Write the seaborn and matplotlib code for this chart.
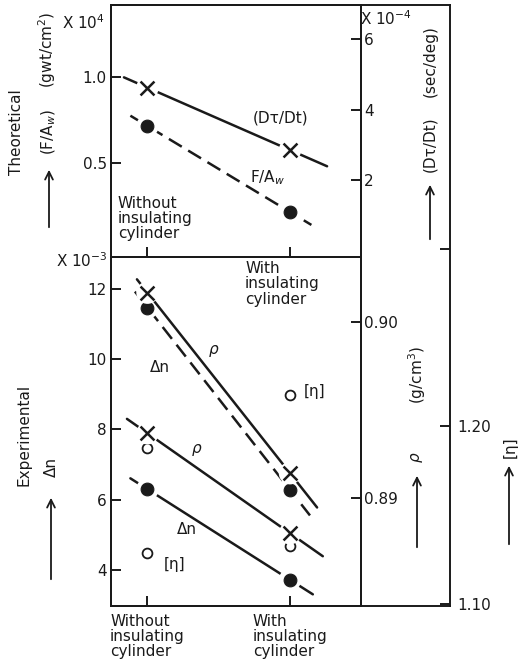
import numpy as np
import pandas as pd
import matplotlib
matplotlib.use("Agg")
import matplotlib.pyplot as plt
import seaborn as sns

# ---- data -------------------------------------------------------------
conditions = ["Without\ninsulating\ncylinder", "With\ninsulating\ncylinder"]
cond_x = [0, 1]

# theoretical values
force_per_area = [0.715, 0.215]   # F/A_w  (x10^4 gwt/cm^2)
dtau_dt = [4.62, 2.85]            # Dτ/Dt  (x10^-4 sec/deg)

# experimental values, first sample
density_1 = [0.90164, 0.89142]     # ρ  (g/cm^3)
birefringence_1 = [11.47, 6.28]    # Δn (x10^-3)
viscosity_1 = [1.1285, 1.2175]     # [η]

# experimental values, second sample
density_2 = [0.89368, 0.88802]
birefringence_2 = [6.30, 3.72]
viscosity_2 = [1.1876, 1.1324]

force_ticks = [0.5, 1.0]
dtau_ticks = [2, 4, 6]
dn_ticks = [4, 6, 8, 10, 12]
rho_ticks = [0.89, 0.90]
eta_ticks = [1.10, 1.20, 1.30]
eta_ticklabels = ["1.10", "1.20", ""]

# ---- style ------------------------------------------------------------
sns.set_theme(style="ticks")
plt.rcParams["font.family"] = ["DejaVu Sans"]
plt.rcParams["mathtext.fontset"] = "dejavusans"
plt.rcParams["axes.linewidth"] = 1.4
for key in ("text.color", "axes.labelcolor", "xtick.color", "ytick.color",
            "axes.edgecolor"):
    plt.rcParams[key] = "black"
FS = 11
LW = 1.8
DASH = (0, (6, 3))

W, H = 523, 666
fig = plt.figure(figsize=(W / 100, H / 100), dpi=100)
fig.patch.set_facecolor("white")


def rect(l, t, r, b):
    return [l / W, 1 - b / H, (r - l) / W, (b - t) / H]


def fpos(px, py):
    return px / W, 1 - py / H


XLIM = (-0.256, 1.498)
XLIM_FRAME = (-0.256, 2.123)

# outer frame carrying the [η] scale
axf = fig.add_axes(rect(111, 5, 450, 606))
axf.set_xlim(*XLIM_FRAME)
axf.set_ylim(1.0986, 1.4372)
axf.spines["left"].set_visible(False)
axf.set_xticks([])
axf.yaxis.tick_right()
axf.set_yticks(eta_ticks)
axf.set_yticklabels(eta_ticklabels)
axf.tick_params(axis="y", direction="in", length=7, width=1.4, pad=5,
                labelsize=FS, colors="k")

# top panel: theoretical
ax1 = fig.add_axes(rect(111, 5, 361, 257))
ax1.patch.set_alpha(0)
ax1.set_xlim(*XLIM)
ax1.set_ylim(-0.0465, 1.4186)
ax1.set_yticks(force_ticks)
ax1.set_yticklabels(["0.5", "1.0"])
ax1.set_xticks(cond_x)
ax1.set_xticklabels([])
ax1.tick_params(direction="in", length=7, width=1.4, labelsize=FS, pad=3,
                colors="k")

ax1r = ax1.twinx()
ax1r.set_ylim(-0.184, 6.965)
ax1r.set_yticks(dtau_ticks)
ax1r.tick_params(direction="in", length=7, width=1.4, labelsize=FS, pad=2,
                 colors="k")

# bottom panel: experimental
ax2 = fig.add_axes(rect(111, 257, 361, 606))
ax2.patch.set_alpha(0)
ax2.set_xlim(*XLIM)
ax2.set_ylim(2.975, 12.911)
ax2.set_yticks(dn_ticks)
ax2.set_xticks(cond_x)
ax2.set_xticklabels(conditions, multialignment="left", linespacing=1.0)
ax2.tick_params(direction="in", length=7, width=1.4, labelsize=FS, pad=3,
                colors="k")
ax2.tick_params(axis="x", pad=6)

ax2r = ax2.twinx()
ax2r.set_ylim(0.88390, 0.90366)
ax2r.set_yticks(rho_ticks)
ax2r.set_yticklabels(["0.89", "0.90"])
ax2r.tick_params(direction="in", length=7, width=1.4, labelsize=FS, pad=2,
                 colors="k")

for a in (ax1, ax1r, ax2, ax2r, axf):
    for s in a.spines.values():
        s.set_color("k")
    a.grid(False)
    a.set_xlabel("")
    a.set_ylabel("")


def fit_line(ax, pair, ext, dashed=False):
    xs = np.array(ext)
    ys = pair[0] + (pair[1] - pair[0]) * xs
    sns.lineplot(x=xs, y=ys, ax=ax, color="k", lw=LW,
                 linestyle=DASH if dashed else "-", zorder=2)


def points(ax, vals, kind):
    df = pd.DataFrame({"x": cond_x, "y": vals})
    if kind in ("x", "dot"):
        sns.scatterplot(data=df, x="x", y="y", ax=ax, marker="o", s=260,
                        color="white", edgecolor="none", zorder=3)
    if kind == "x":
        sns.scatterplot(data=df, x="x", y="y", ax=ax, marker="x", s=100,
                        color="k", linewidth=1.8, zorder=4)
    elif kind == "dot":
        sns.scatterplot(data=df, x="x", y="y", ax=ax, marker="o", s=85,
                        color="k", edgecolor="k", zorder=4)
    else:
        sns.scatterplot(data=df, x="x", y="y", ax=ax, marker="o", s=50,
                        facecolor="white", edgecolor="k", linewidth=1.3,
                        zorder=4)
    ax.set_xlabel("")
    ax.set_ylabel("")


# theoretical lines
fit_line(ax1, force_per_area, [-0.12, 1.15], dashed=True)
points(ax1, force_per_area, "dot")
fit_line(ax1r, dtau_dt, [-0.165, 1.26])
points(ax1r, dtau_dt, "x")

# experimental lines
fit_line(ax2, birefringence_1, [-0.088, 1.14], dashed=True)
points(ax2, birefringence_1, "dot")
fit_line(ax2, birefringence_2, [-0.12, 1.16])
points(ax2, birefringence_2, "dot")
fit_line(ax2r, density_1, [-0.074, 1.19])
points(ax2r, density_1, "x")
fit_line(ax2r, density_2, [-0.144, 1.23])
points(ax2r, density_2, "x")
points(axf, viscosity_1, "o")
points(axf, viscosity_2, "o")

# re-apply limits after seaborn drawing
ax1.set_xlim(*XLIM); ax2.set_xlim(*XLIM); axf.set_xlim(*XLIM_FRAME)
ax1.set_ylim(-0.0465, 1.4186); ax1r.set_ylim(-0.184, 6.965)
ax2.set_ylim(2.975, 12.911); ax2r.set_ylim(0.88390, 0.90366)
axf.set_ylim(1.0986, 1.4372)


def label(px, py, s, rot=0, ha="center", va="center", size=FS, **kw):
    x, y = fpos(px, py)
    fig.text(x, y, s, rotation=rot, ha=ha, va=va, fontsize=size,
             color="k", **kw)


def arrow(px, py0, py1):
    fig.add_artist(matplotlib.patches.FancyArrowPatch(
        fpos(px, py0), fpos(px, py1), transform=fig.transFigure,
        arrowstyle="->", mutation_scale=14, lw=1.3, color="k"))


# in-panel annotations
label(281, 118, "(Dτ/Dt)")
label(268, 178, "F/A$_w$")
label(118, 218, "Without\ninsulating\ncylinder", ha="left", linespacing=1.0)
label(245, 284, "With\ninsulating\ncylinder", ha="left", linespacing=1.05)
label(214, 351, r"$\rho$")
label(160, 367, "Δn")
label(315, 392, "[η]")
label(197, 450, r"$\rho$")
label(187, 529, "Δn")
label(175, 565, "[η]")

# axis titles, left
label(17, 132, "Theoretical", rot=90)
label(49, 132, "(F/A$_w$)", rot=90)
label(47, 50, "(gwt/cm$^2$)", rot=90)
arrow(49, 230, 167)
label(83, 23, "X 10$^4$")
label(82, 261, "X 10$^{-3}$")
label(24, 435, "Experimental", rot=90)
label(51, 467, "Δn", rot=90)
arrow(51, 582, 495)

# axis titles, right
label(386, 19, "X 10$^{-4}$")
label(430, 61, "(sec/deg)", rot=90)
label(430, 144, "(Dτ/Dt)", rot=90)
arrow(430, 242, 182)
label(417, 375, "(g/cm$^3$)", rot=90)
label(417, 457, r"$\rho$", rot=90)
arrow(417, 550, 473)
label(510, 447, "[η]", rot=90)
arrow(509, 547, 463)

fig.savefig("out.png", dpi=100, facecolor="white")
